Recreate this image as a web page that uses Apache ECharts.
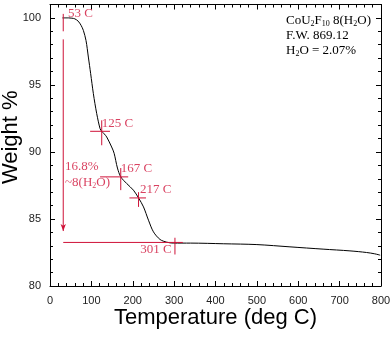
<!DOCTYPE html>
<html>
<head>
<meta charset="utf-8">
<script src="https://cdn.jsdelivr.net/npm/echarts@6/dist/echarts.min.js"></script>
<style>
  html, body { margin: 0; padding: 0; background: #fff; }
  #tga { width: 392px; height: 338px; }
</style>
</head>
<body>
<div id="tga"></div>
<script>
// TGA curve
const tempC = [30, 45, 53, 60, 68, 75, 80.6, 87, 92.7, 98.3, 104.8, 112.9, 121, 125, 131, 137, 149, 155, 163, 171, 185.5, 201.6, 214, 226, 238, 250, 266, 282, 298, 340, 420, 500, 580, 660, 725, 765, 785, 798];
const weightPct = [100.0, 100.0, 99.98, 99.93, 99.76, 99.45, 99.07, 98.32, 97.08, 95.84, 94.35, 92.86, 91.74, 91.54, 91.35, 91.12, 90.37, 89.9, 88.8, 88.14, 87.64, 87.15, 86.57, 85.9, 84.91, 84.04, 83.47, 83.27, 83.2, 83.2, 83.15, 83.09, 82.92, 82.75, 82.62, 82.5, 82.4, 82.3];

// annotation segments: [t1, w1, t2, w2]
const marks = [
  [32, 100.3, 32, 99.0],      // 53 C tick
  [97, 91.54, 145, 91.54],    // 125 C cross
  [125, 92.36, 125, 90.5],
  [121, 88.14, 189, 88.14],   // 167 C cross
  [171, 88.8, 171, 87.15],
  [192, 86.57, 232, 86.57],   // 217 C cross
  [214, 87.0, 214, 85.9],
  [32, 83.25, 321, 83.25],    // baseline
  [302, 83.6, 302, 82.35]     // 301 C tick
];
const arrow = [32, 98.4, 32, 84.1];

// annotation texts
const noteText = ["53 C", "125 C", "167 C", "217 C", "301 C", "16.8%", "~8(H{sub|2}O)"];
const noteT = [43.5, 125, 171, 217.7, 294, 36.3, 36.3];
const noteW = [100.36, 92.12, 88.74, 87.23, 82.73, 88.89, 87.73];
const noteAlign = ["left", "left", "left", "left", "right", "left", "left"];

const red = "#cf1238";
const serif = "Liberation Serif";
const sans = "Liberation Sans";

const chart = echarts.init(document.getElementById("tga"));

function axisBase(show) {
  return {
    axisLine: { show: true, onZero: false, lineStyle: { color: "#000", width: 1 } },
    axisTick: { show: true, inside: true, length: 5, lineStyle: { color: "#000", width: 1 } },
    minorTick: { show: true, splitNumber: 5, length: 3, lineStyle: { color: "#000", width: 1 } },
    splitLine: { show: false },
    axisLabel: { show: show, color: "#222", fontFamily: sans, fontSize: 11, margin: 9 }
  };
}

const sub = { fontFamily: serif, fontSize: 8, color: red, verticalAlign: "bottom", lineHeight: 9 };

const segSeries = marks.map((m) => ({
  type: "line",
  data: [[m[0], m[1]], [m[2], m[3]]],
  showSymbol: false,
  silent: true,
  itemStyle: { color: red },
  lineStyle: { color: red, width: 1 },
  z: 4
}));

const yLeft = Object.assign(axisBase(true), {
  type: "value", min: 80, max: 101, interval: 5,
  name: "Weight %", nameLocation: "middle", nameGap: 28, nameRotate: 90, nameMoveOverlap: false,
  nameTextStyle: { fontFamily: sans, fontSize: 22, color: "#000", padding: [0, 0, 0, 16] }
});
yLeft.axisLabel.showMaxLabel = false;

chart.setOption({
  animation: false,
  grid: { left: 50, right: 11, top: 4.5, bottom: 52, outerBoundsMode: "none", containLabel: false },
  xAxis: [
    Object.assign(axisBase(true), {
      type: "value", min: 0, max: 800, interval: 100,
      name: "Temperature (deg C)", nameLocation: "middle", nameGap: 21, nameMoveOverlap: false,
      nameTextStyle: { fontFamily: sans, fontSize: 22, color: "#000" }
    }),
    Object.assign(axisBase(false), { type: "value", position: "top", min: 0, max: 800, interval: 100 })
  ],
  yAxis: [
    yLeft,
    Object.assign(axisBase(false), { type: "value", position: "right", min: 80, max: 101, interval: 5 })
  ],
  graphic: [{
    type: "text", left: 286, top: 14,
    style: {
      text: "{a|CoU}{s|2}{a|F}{s|10}{a| 8(H}{s|2}{a|O)}\n{a|F.W. 869.12}\n{a|H}{s|2}{a|O = 2.07%}",
      rich: {
        a: { fontFamily: serif, fontSize: 13, color: red, lineHeight: 15, verticalAlign: "middle" },
        s: sub
      }
    }
  }],
  series: [
    {
      type: "line",
      data: tempC.map((t, i) => [t, weightPct[i]]),
      showSymbol: false,
      smooth: 0.3,
      lineStyle: { color: "#000", width: 1 },
      z: 3
    },
    ...segSeries,
    {
      type: "line",
      data: [[arrow[0], arrow[1]], { value: [arrow[2], arrow[3]], symbol: "arrow", symbolSize: [4, 7], symbolRotate: 180 }],
      symbol: "none",
      showSymbol: true,
      silent: true,
      itemStyle: { color: red },
      lineStyle: { color: red, width: 1 },
      z: 4
    },
    {
      type: "scatter",
      symbolSize: 0,
      silent: true,
      data: noteText.map((s, i) => ({
        value: [noteT[i], noteW[i]],
        label: { align: noteAlign[i] }
      })),
      label: {
        show: true,
        position: "inside",
        verticalAlign: "middle",
        formatter: (p) => "{a|" + noteText[p.dataIndex].replace("{sub|2}", "}{sub|2}{a|") + "}",
        rich: {
          a: { fontFamily: serif, fontSize: 13, color: red, lineHeight: 15, verticalAlign: "middle" },
          sub: sub
        }
      },
      z: 5
    }
  ]
});

window.addEventListener("resize", () => chart.resize());
</script>
</body>
</html>
